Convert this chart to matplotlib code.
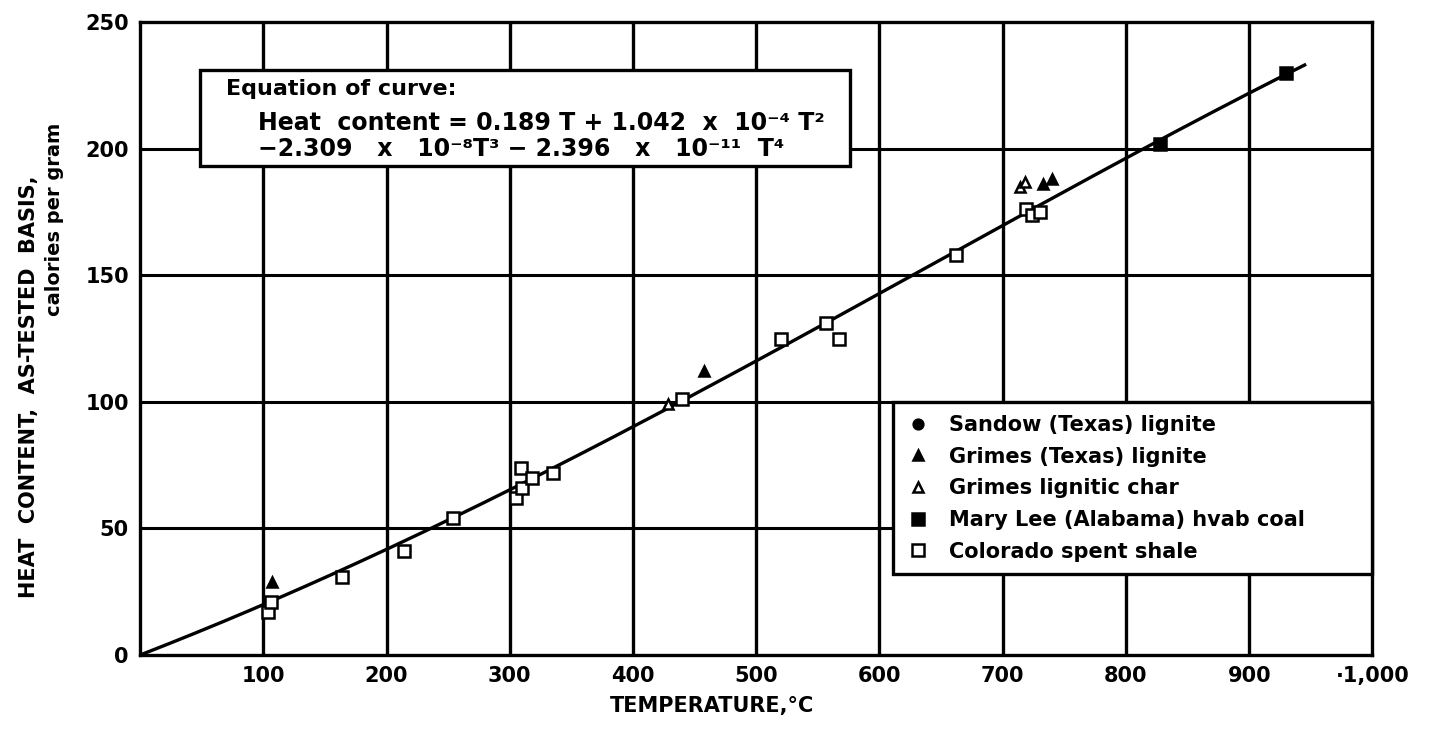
from matplotlib import pyplot as plt
from matplotlib.patches import Rectangle
import numpy as np

# equation of curve: heat content = c1*T + c2*T^2 + c3*T^3 + c4*T^4
coef = [0.189, 1.042e-4, -2.309e-8, -2.396e-11]
t_end = 945

# points (T in degC, heat content in cal/g)
sandow_t = []
sandow_h = []
grimes_t = [107, 458, 733, 740]
grimes_h = [29, 112, 186, 188]
char_t = [428, 714, 718]
char_h = [99, 185, 187]
marylee_t = [828, 930]
marylee_h = [202, 230]
shale_t = [104, 106, 164, 214, 254, 305, 310, 309, 318, 335, 440, 520, 557, 567, 662, 719, 724, 730]
shale_h = [17, 21, 31, 41, 54, 62, 66, 74, 70, 72, 101, 125, 131, 125, 158, 176, 174, 175]

xticks = [100, 200, 300, 400, 500, 600, 700, 800, 900, 1000]
xlabels = ['100', '200', '300', '400', '500', '600', '700', '800', '900', '·1,000']
yticks = [0, 50, 100, 150, 200, 250]

plt.rcParams['font.family'] = ['DejaVu Sans']
plt.rcParams['font.weight'] = 'bold'

fig = plt.figure(figsize=(14.38, 7.30), dpi=100)
ax = fig.add_axes([0.0974, 0.1027, 0.857, 0.867])
ax.set_xlim(0, 1000)
ax.set_ylim(0, 250)

for s in ax.spines.values():
    s.set_linewidth(2.4)
ax.set_xticks(xticks)
ax.set_xticklabels(xlabels)
ax.set_yticks(yticks)
ax.tick_params(length=0, labelsize=15, pad=8)
for lab in ax.get_xticklabels() + ax.get_yticklabels():
    lab.set_fontweight('bold')

# grid
for x in xticks[:-1]:
    ax.axvline(x, color='k', lw=2.4, zorder=1)
for y in yticks[1:-1]:
    ax.axhline(y, color='k', lw=2.2, zorder=1)

# fitted curve
T = np.linspace(0, t_end, 300)
H = coef[0]*T + coef[1]*T**2 + coef[2]*T**3 + coef[3]*T**4
ax.plot(T, H, color='k', lw=2.4, zorder=3)

mk = dict(linestyle='none', color='k', zorder=4, markeredgewidth=1.8)
ax.plot(sandow_t, sandow_h, marker='o', markersize=7, label='Sandow (Texas) lignite', **mk)
ax.plot(grimes_t, grimes_h, marker='^', markersize=7, label='Grimes (Texas) lignite', **mk)
ax.plot(char_t, char_h, marker='^', markersize=7, markerfacecolor='white',
        label='Grimes lignitic char', **mk)
ax.plot(marylee_t, marylee_h, marker='s', markersize=8, label='Mary Lee (Alabama) hvab coal', **mk)
ax.plot(shale_t, shale_h, marker='s', markersize=8, markerfacecolor='white',
        label='Colorado spent shale', **mk)

leg = ax.legend(loc='upper left', bbox_to_anchor=(0.611, 0.0, 0.389, 0.399),
                mode='expand', frameon=True, fancybox=False, framealpha=1,
                borderaxespad=0, fontsize=15, handlelength=1.2, handletextpad=0.9,
                labelspacing=0.56, borderpad=0.6)
leg.get_frame().set_edgecolor('k')
leg.get_frame().set_linewidth(2.4)
leg.set_zorder(5)
for txt in leg.get_texts():
    txt.set_fontweight('bold')

# equation box
ax.add_patch(Rectangle((49, 193), 527, 38, facecolor='white', edgecolor='k',
                       lw=2.4, zorder=5))
ax.text(70, 227.5, 'Equation of curve:', fontsize=16, fontweight='bold',
        va='top', zorder=6)
ax.text(96, 215, 'Heat  content = 0.189 T + 1.042  x  10⁻⁴ T²', fontsize=17,
        fontweight='bold', va='top', zorder=6)
ax.text(96, 204.5, '−2.309   x   10⁻⁸T³ − 2.396   x   10⁻¹¹  T⁴', fontsize=17,
        fontweight='bold', va='top', zorder=6)

fig.text(0.495, 0.033, 'TEMPERATURE,°C', ha='center', va='center',
         fontsize=15, fontweight='bold')
fig.text(0.020, 0.47, 'HEAT  CONTENT,  AS-TESTED  BASIS,', rotation=90,
         ha='center', va='center', fontsize=15, fontweight='bold')
fig.text(0.038, 0.70, 'calories per gram', rotation=90,
         ha='center', va='center', fontsize=14, fontweight='bold')

fig.savefig('out.png', dpi=100)
